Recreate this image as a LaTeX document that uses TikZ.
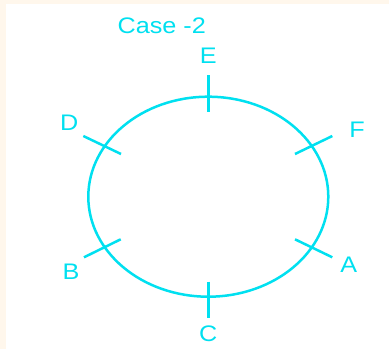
\documentclass[tikz,border=0pt]{standalone}
\usepackage{fontspec}
\setmainfont{Liberation Sans}
\definecolor{cyanline}{RGB}{0,224,240}
\definecolor{cream}{RGB}{255,247,236}
\begin{document}
\begin{tikzpicture}[x=1pt,y=-1pt,
  lbl/.style={text=cyanline,font=\fontsize{22.5}{26}\selectfont,inner sep=0pt,xscale=1.12,transform shape},
  tick/.style={draw=cyanline,line width=2.5pt},
  ring/.style={draw=cyanline,line width=2.5pt}]
\useasboundingbox (0,0) rectangle (389,349);
\fill[cream] (0,0) rectangle (389,349);
\fill[white] (6,4) rectangle (389,349);
\draw[ring] (208.3,196.7) ellipse [x radius=120, y radius=100];
% tick end points
\coordinate (e1) at (208.3,75);   \coordinate (e2) at (208.3,111.7);
\coordinate (c1) at (208.3,281.7); \coordinate (c2) at (208.3,318.3);
\coordinate (d1) at (83.3,136);   \coordinate (d2) at (121,154);
\coordinate (f1) at (295,154);    \coordinate (f2) at (332.3,136);
\coordinate (b1) at (84,257.3);   \coordinate (b2) at (120.7,239.3);
\coordinate (a1) at (295,239.3);  \coordinate (a2) at (332.3,257.3);
\draw[tick] (e1) -- (e2);
\draw[tick] (c1) -- (c2);
\draw[tick] (d1) -- (d2);
\draw[tick] (f1) -- (f2);
\draw[tick] (b1) -- (b2);
\draw[tick] (a1) -- (a2);
% labels
\node[lbl] (title) at (161.7,26) {Case -2};
\node[lbl] (E) at (208.3,55.7) {E};
\node[lbl] (D) at (69.2,122.3) {D};
\node[lbl] (F) at (357,129.7) {F};
\node[lbl] (B) at (71,272) {B};
\node[lbl] (A) at (348.7,265) {A};
\node[lbl] (C) at (208.3,333.3) {C};
\end{tikzpicture}
\end{document}
